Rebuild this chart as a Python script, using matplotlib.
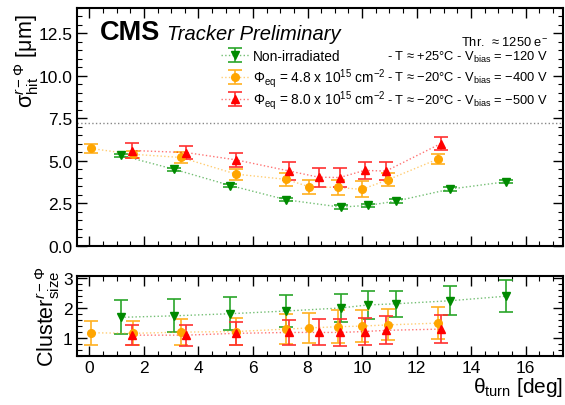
import matplotlib
matplotlib.use("Agg")
import matplotlib.pyplot as plt
from matplotlib.ticker import MultipleLocator, FormatStrFormatter
from matplotlib.legend import Legend

plt.rcParams['font.family'] = ['Liberation Sans', 'DejaVu Sans']
plt.rcParams['mathtext.fontset'] = 'custom'
plt.rcParams['mathtext.rm'] = 'Liberation Sans'
plt.rcParams['mathtext.it'] = 'Liberation Sans:italic'
plt.rcParams['mathtext.bf'] = 'Liberation Sans:bold'

# hit resolution vs turn angle
theta_green = [1.15, 3.10, 5.17, 7.22, 9.21, 10.21, 11.24, 13.23, 15.27]
sigma_green = [5.33, 4.51, 3.55, 2.71, 2.28, 2.38, 2.63, 3.34, 3.77]
sigma_green_err = [0.10, 0.10, 0.10, 0.10, 0.10, 0.10, 0.10, 0.10, 0.10]

theta_orange = [0.06, 1.59, 3.36, 5.38, 7.22, 8.07, 9.13, 9.99, 10.95, 12.80]
sigma_orange = [5.73, 5.39, 5.20, 4.22, 3.91, 3.47, 3.44, 3.32, 3.89, 5.12]
sigma_orange_err = [0.29, 0.22, 0.30, 0.33, 0.37, 0.42, 0.45, 0.47, 0.38, 0.31]

theta_red = [1.58, 3.55, 5.38, 7.31, 8.41, 9.18, 10.09, 10.88, 12.89]
sigma_red = [5.61, 5.49, 5.06, 4.41, 4.04, 4.02, 4.44, 4.40, 6.02]
sigma_red_err = [0.45, 0.40, 0.43, 0.53, 0.55, 0.56, 0.52, 0.51, 0.40]

# cluster size
clus_green = [1.69, 1.74, 1.81, 1.90, 2.00, 2.10, 2.14, 2.24, 2.39]
clus_green_err = [0.56, 0.55, 0.55, 0.52, 0.47, 0.45, 0.43, 0.48, 0.53]
clus_orange = [1.18, 1.16, 1.20, 1.22, 1.30, 1.34, 1.38, 1.40, 1.44, 1.50]
clus_orange_err = [0.39, 0.40, 0.42, 0.45, 0.50, 0.50, 0.54, 0.53, 0.51, 0.53]
clus_red = [1.10, 1.10, 1.16, 1.19, 1.19, 1.19, 1.22, 1.26, 1.30]
clus_red_err = [0.33, 0.35, 0.37, 0.40, 0.43, 0.44, 0.46, 0.46, 0.47]

pitch_line = 7.2

labels = ['Non-irradiated',
          r'Φ$_{\rm eq}$ = 4.8 x 10$^{15}$ cm$^{-2}$',
          r'Φ$_{\rm eq}$ = 8.0 x 10$^{15}$ cm$^{-2}$']
conditions = [r'- T ≈ +25°C - V$_{\rm bias}$ = −120 V',
              r'- T ≈ −20°C - V$_{\rm bias}$ = −400 V',
              r'- T ≈ −20°C - V$_{\rm bias}$ = −500 V']

series = [
    (theta_green, sigma_green, sigma_green_err, clus_green, clus_green_err, '#008a00', '#2aa52a', 'v'),
    (theta_orange, sigma_orange, sigma_orange_err, clus_orange, clus_orange_err, '#ffa500', '#ffb020', 'o'),
    (theta_red, sigma_red, sigma_red_err, clus_red, clus_red_err, '#ff0000', '#ff3030', '^'),
]

fig = plt.figure(figsize=(5.65, 4.06), dpi=100)
ax1 = fig.add_axes([0.136, 0.392, 0.860, 0.586])
ax2 = fig.add_axes([0.136, 0.120, 0.860, 0.197])

handles = []
for th, sg, sge, cl, cle, col, ecol, mk in series:
    ln, = ax1.plot(th, sg, ls=':', color=col, lw=1.0, alpha=0.55)
    h = ax1.errorbar(th, sg, yerr=sge, fmt=mk, color=col, ecolor=ecol, ms=5.5,
                     capsize=5, elinewidth=1.2, capthick=1.2)
    handles.append((ln, h))
    ax2.plot(th, cl, ls=':', color=col, lw=1.0, alpha=0.55)
    ax2.errorbar(th, cl, yerr=cle, fmt=mk, color=col, ecolor=ecol, ms=5.5,
                 capsize=5, elinewidth=1.2, capthick=1.2)

ax1.axhline(pitch_line, color='#888888', ls=':', lw=1.0)

for ax in (ax1, ax2):
    ax.set_xlim(-0.46, 17.36)
    ax.xaxis.set_major_locator(MultipleLocator(2))
    ax.xaxis.set_minor_locator(MultipleLocator(0.5))
    ax.tick_params(which='both', direction='in', top=True, right=True, labelsize=12.5)
    ax.tick_params(which='major', length=7, width=1, pad=3)
    ax.tick_params(which='minor', length=3.5, width=0.8)
    for sp in ax.spines.values():
        sp.set_linewidth(1.5)

ax1.set_ylim(0, 14)
ax1.yaxis.set_major_locator(MultipleLocator(2.5))
ax1.yaxis.set_minor_locator(MultipleLocator(0.5))
ax1.tick_params(labelbottom=False)
ax1.yaxis.set_major_formatter(FormatStrFormatter('%.1f'))
ax1.set_ylabel(r'σ$^{r-\Phi}_{\rm hit}$ [μm]', fontsize=15.5)
ax1.yaxis.set_label_coords(-0.074, 0.78)

ax2.set_ylim(0.4, 3.05)
ax2.yaxis.set_major_locator(MultipleLocator(1))
ax2.yaxis.set_minor_locator(MultipleLocator(0.2))
ax2.set_ylabel(r'Cluster$^{r-\Phi}_{\rm size}$', fontsize=15.5)
ax2.yaxis.set_label_coords(-0.03, 0.5)
ax2.set_xlabel(r'θ$_{\rm turn}$ [deg]', fontsize=15, loc='right', labelpad=0)

# one legend row per series so the rows stay evenly spaced
row_y = [0.798, 0.706, 0.613]
for hnd, lab, y in zip(handles, labels, row_y):
    leg = Legend(ax1, [hnd], [lab], loc='center left', bbox_to_anchor=(0.297, y),
                 frameon=False, fontsize=9.9, handlelength=2.0,
                 handletextpad=0.3, borderaxespad=0, borderpad=0)
    ax1.add_artist(leg)

for c, y in zip(conditions, row_y):
    ax1.text(0.969, y, c, transform=ax1.transAxes,
             ha='right', va='center', fontsize=9.3)
ax1.text(0.969, 0.857, r'Thr.  ≈ 1250 e$^{-}$', transform=ax1.transAxes,
         ha='right', va='center', fontsize=9.3)

ax1.text(0.047, 0.899, 'CMS', transform=ax1.transAxes, ha='left', va='center',
         fontsize=19.5, fontweight='bold')
ax1.text(0.185, 0.893, 'Tracker Preliminary', transform=ax1.transAxes, ha='left',
         va='center', fontsize=14.5, style='italic')

fig.savefig('out.png', dpi=100)
